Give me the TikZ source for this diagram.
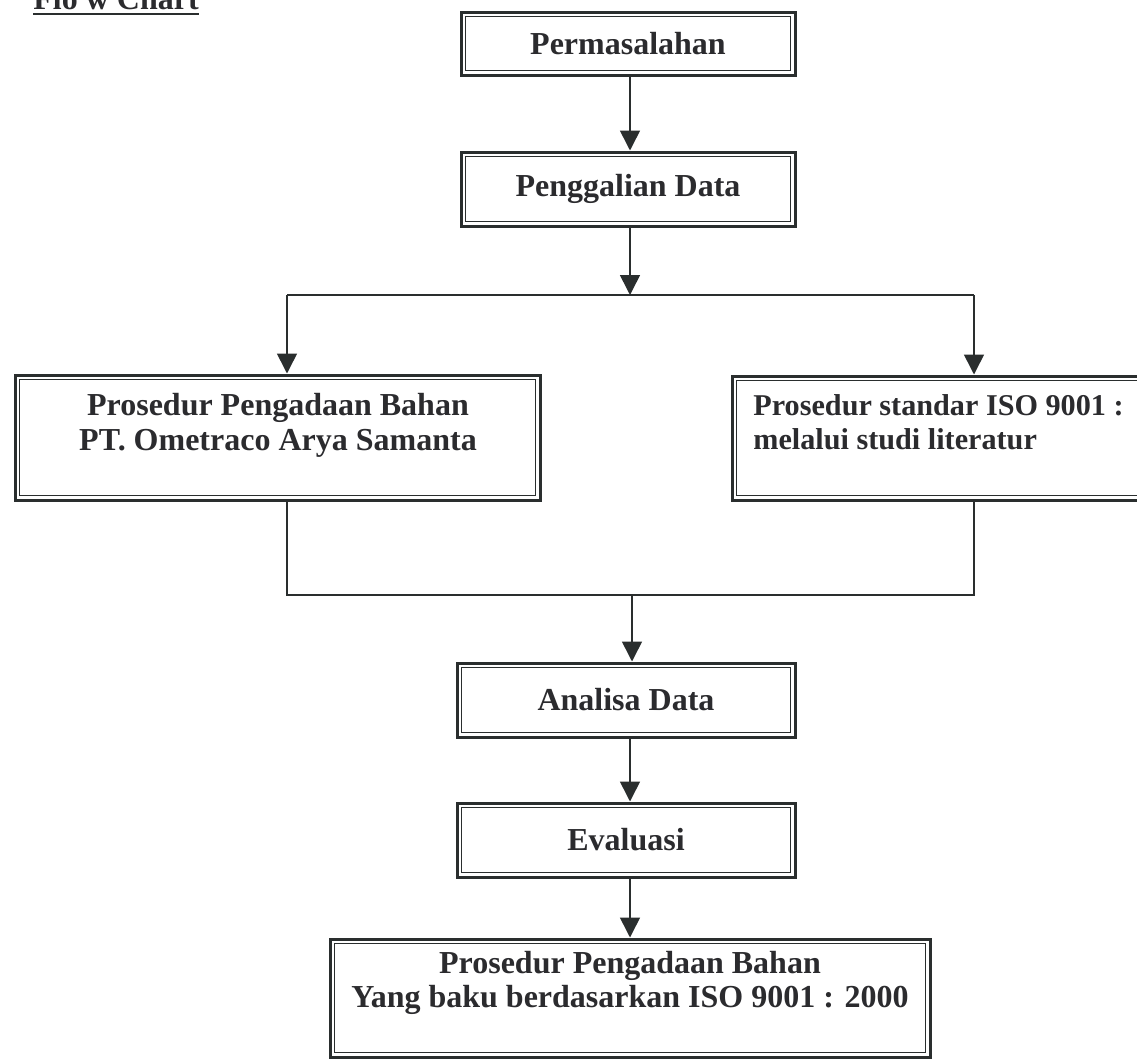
\documentclass[tikz,border=0pt]{standalone}
\usepackage{fontspec}
\setmainfont{Liberation Serif}
\usetikzlibrary{arrows.meta,calc}
\definecolor{linec}{HTML}{2A2E2E}
\definecolor{txtc}{HTML}{2B2B2E}
\newcommand\flowbox[5]{% name, x1, y1, x2, y2
  \node[boxframe, minimum width={(#4-#2)*0.5pt}, minimum height={(#5-#3)*0.5pt}] (#1) at ({(#2+#4)/2},{(#3+#5)/2}) {};
  \draw[innerframe] ($(#1.north west)+(6,6)$) rectangle ($(#1.south east)+(-6,-6)$);
}
\begin{document}
\begin{tikzpicture}[x=0.5pt,y=-0.5pt,
  boxframe/.style={draw=linec, line width=1.5pt, inner sep=0pt, fill=white},
  innerframe/.style={draw=linec, line width=0.8pt},
  lbl/.style={text=txtc, inner sep=0pt, font=\fontsize{16}{17.5}\selectfont\bfseries},
  conn/.style={draw=linec, line width=0.8pt},
  arr/.style={conn, -{Triangle[width=10pt,length=10pt]}},
]
\useasboundingbox (0,0) rectangle (1137,1060);

% title (cut off at top, as in the reference)
\node[lbl, anchor=base west] (title) at (33,10) {Flo w Chart};
\draw[draw=linec, line width=1.1pt] ($(title.base west)+(0,4)$) -- ($(title.base east)+(0,4)$);

% boxes
\flowbox{p1}{461}{12}{795}{75}
\node[lbl] (t1) at (p1.center) {Permasalahan};
\flowbox{p2}{461}{152}{795}{226}
\node[lbl] (t2) at (p2.center) {Penggalian Data};
\flowbox{lb}{15}{375}{540}{500}
\node[lbl, anchor=base] (tl1) at (278,415) {Prosedur Pengadaan Bahan};
\node[lbl, anchor=base] (tl2) at (278,450) {PT. Ometraco Arya Samanta};
\flowbox{rb}{732}{376}{1170}{500}
\node[lbl, anchor=base west, font=\fontsize{15.1}{17}\selectfont\bfseries] (tr1) at (753,415) {Prosedur standar ISO 9001 :};
\node[lbl, anchor=base west, font=\fontsize{15.1}{17}\selectfont\bfseries] (tr2) at (753,449) {melalui studi literatur};
\flowbox{an}{457}{663}{795}{737}
\node[lbl] (t3) at (an.center) {Analisa Data};
\flowbox{ev}{457}{803}{795}{877}
\node[lbl] (t4) at (ev.center) {Evaluasi};
\flowbox{fb}{330}{939}{930}{1057}
\node[lbl, anchor=base] (tf1) at (630,973) {Prosedur Pengadaan Bahan};
\node[lbl, anchor=base] (tf2) at (630,1007) {Yang baku berdasarkan ISO 9001 : 2000};

% junction points
\coordinate (sm) at (630,295);
\coordinate (sl) at (287,295);
\coordinate (sr) at (974,295);
\coordinate (jl) at (287,595);
\coordinate (jr) at (974,595);
\coordinate (jm) at (632,595);

% connectors
\draw[arr] (p1.south -| sm) -- (p2.north -| sm);
\draw[arr] (p2.south -| sm) -- (sm);
\draw[conn] (sl) -- (sr);
\draw[arr] (sl) -- (sl |- lb.north);
\draw[arr] (sr) -- (sr |- rb.north);
\draw[conn] (lb.south -| jl) -- (jl) -- (jr) -- (rb.south -| jr);
\draw[arr] (jm) -- (jm |- an.north);
\draw[arr] (an.south -| sm) -- (ev.north -| sm);
\draw[arr] (ev.south -| sm) -- (fb.north -| sm);
\end{tikzpicture}
\end{document}
